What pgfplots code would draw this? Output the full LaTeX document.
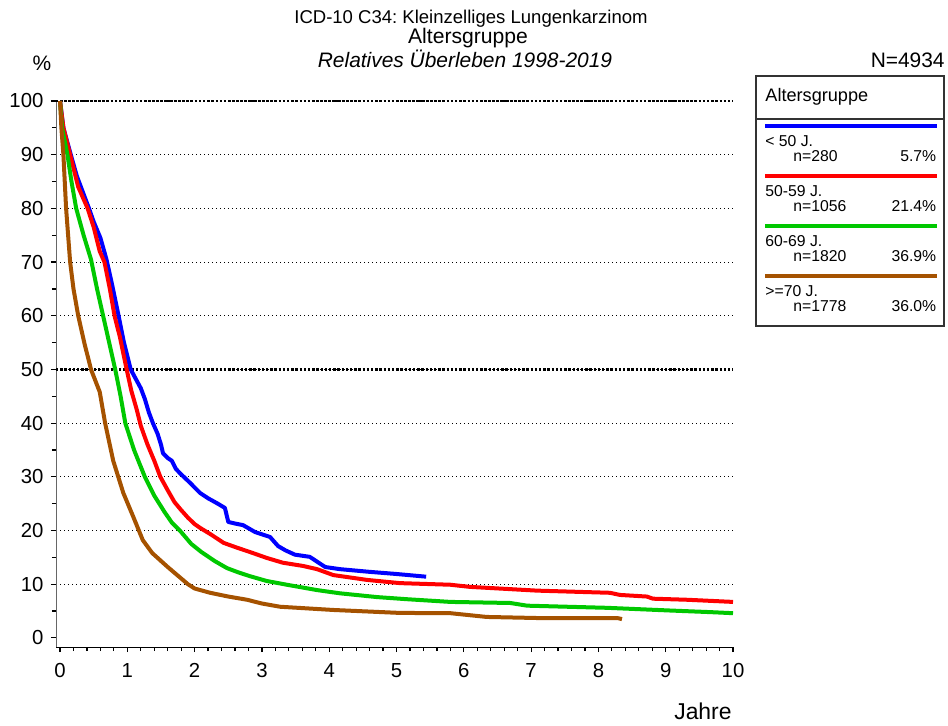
\documentclass[border=0pt]{standalone}
\usepackage{pgfplots}
\pgfplotsset{compat=1.18}
\usepackage{fontspec}
\setmainfont{Liberation Sans}
\frenchspacing

\definecolor{cBlue}{RGB}{0,0,255}
\definecolor{cRed}{RGB}{255,0,0}
\definecolor{cGreen}{RGB}{0,200,0}
\definecolor{cBrown}{RGB}{165,82,0}

\newcommand{\fs}[1]{\fontsize{#1}{#1}\selectfont}

\begin{document}
\begin{tikzpicture}[x=1bp,y=1bp]
\useasboundingbox (0,0) rectangle (474,362.5);

% titles
\node[anchor=base, font=\fs{9.3}, inner sep=0pt] at (235.5,350.8) {ICD-10 C34: Kleinzelliges Lungenkarzinom};
\node[anchor=base, font=\fs{10.6}, inner sep=0pt] at (234,340.6) {Altersgruppe};
\node[anchor=base, font=\fs{10.5}\itshape, inner sep=0pt] at (232.5,328.9) {Relatives Überleben 1998-2019};
\node[anchor=base, font=\fs{10.5}, inner sep=0pt] at (21,327.5) {\%};
\node[anchor=base east, font=\fs{10.5}, inner sep=0pt] at (472.5,329) {N=4934};
\node[anchor=base east, font=\fs{11.5}, inner sep=0pt] at (366,3) {Jahre};

\begin{axis}[
    at={(28bp,39bp)}, anchor=south west,
    scale only axis,
    width=338.5bp, height=273bp,
    xmin=-0.06, xmax=10,
    ymin=-1.7, ymax=100,
    axis x line*=bottom,
    axis y line*=left,
    y axis line style={draw=black!60},
    x axis line style={draw=black},
    xtick={0,1,...,10},
    minor x tick num=4,
    ytick={10,20,...,100},
    extra y ticks={0},
    extra y tick labels={0},
    extra y tick style={grid=none},
    minor ytick={5,15,...,95},
    tick align=outside,
    major tick length=2.6bp,
    minor tick length=2.1bp,
    tick style={black, line width=0.6bp},
    ymajorgrids,
    grid style={black, line width=0.55bp, dash pattern=on 0.55bp off 1.45bp},
    tick label style={font=\fs{10.2}},
    /pgf/number format/assume math mode=true,
    yticklabel style={anchor=east, inner sep=0pt, xshift=-3.5bp},
    xticklabel style={anchor=north, inner sep=0pt, yshift=-5.5bp},
    clip=false,
    line join=round,
]
\draw[black, line width=1.3bp, dash pattern=on 1.2bp off 0.9bp] (axis cs:-0.06,50) -- (axis cs:10,50);
\draw[black, line width=1.3bp, dash pattern=on 1.2bp off 0.9bp] (axis cs:-0.06,100) -- (axis cs:10,100);

% < 50 J.
\addplot[cBlue, line width=2bp] coordinates {
(0,100) (0.05,95) (0.16,90) (0.25,86) (0.37,82) (0.43,80) (0.5,77.5) (0.6,74.5)
(0.69,70.5) (0.77,66) (0.87,60) (0.95,55) (1.05,50) (1.11,48.6) (1.2,46.5)
(1.26,44.5) (1.32,42) (1.38,40) (1.45,38) (1.5,36) (1.53,34.4) (1.6,33.5)
(1.66,33) (1.72,31.5) (1.78,30.7) (1.93,28.9) (2.08,27) (2.2,26) (2.33,25.1)
(2.45,24.2) (2.5,21.6) (2.6,21.3) (2.72,21.0) (2.9,19.7) (3.12,18.8) (3.24,17.1)
(3.35,16.3) (3.49,15.5) (3.71,15.1) (3.94,13.2) (4.16,12.8) (4.6,12.3)
(5.0,11.9) (5.44,11.4)
};
% 50-59 J.
\addplot[cRed, line width=2bp] coordinates {
(0,100) (0.05,95) (0.15,90) (0.27,84) (0.41,80) (0.5,76.5) (0.59,72) (0.66,70)
(0.74,65) (0.81,60) (0.89,56) (0.99,50) (1.06,46) (1.14,42.5) (1.2,39.5)
(1.3,36) (1.4,33) (1.49,30) (1.6,27.5) (1.7,25.3) (1.8,23.8) (1.9,22.4)
(2.0,21.2) (2.08,20.5) (2.25,19.2) (2.43,17.7) (2.63,16.8) (2.82,16)
(3.07,14.9) (3.31,14) (3.61,13.4) (3.82,12.8) (4.06,11.7) (4.56,10.8)
(5.05,10.2) (5.8,9.9) (6.09,9.5) (7.09,8.8) (8.17,8.4) (8.32,8.0) (8.72,7.7)
(8.81,7.3) (9.32,7.1) (10,6.7)
};
% 60-69 J.
\addplot[cGreen, line width=2bp] coordinates {
(0,100) (0.03,95) (0.11,90) (0.17,85) (0.24,80) (0.35,75) (0.46,70.5) (0.55,65)
(0.64,60) (0.73,55) (0.82,50) (0.9,45) (0.97,40) (1.1,35) (1.26,30) (1.4,26.5)
(1.55,23.5) (1.66,21.5) (1.78,20) (1.95,17.5) (2.1,16) (2.3,14.3) (2.48,13)
(2.65,12.2) (2.82,11.5) (3.07,10.6) (3.37,9.9) (3.82,8.9) (4.16,8.3)
(4.71,7.6) (5.16,7.2) (5.8,6.7) (6.69,6.5) (6.94,6.0) (8.13,5.6) (9.06,5.1)
(9.66,4.8) (10,4.6)
};
% >=70 J.
\addplot[cBrown, line width=2bp] coordinates {
(0,100) (0.02,95) (0.05,90) (0.07,85) (0.09,80) (0.12,75) (0.15,70) (0.2,65)
(0.27,60) (0.36,55) (0.46,50) (0.59,45.8) (0.67,40) (0.79,33) (0.94,27)
(1.09,22.5) (1.23,18.2) (1.37,15.8) (1.6,13.2) (1.9,10) (2.0,9.2) (2.23,8.4)
(2.5,7.7) (2.78,7.1) (3.0,6.4) (3.27,5.8) (4.06,5.2) (5.05,4.65) (5.8,4.6)
(6.34,3.9) (7.09,3.7) (8.28,3.7) (8.35,3.5)
};
\end{axis}

% legend
\draw[black!80, line width=0.6bp] (378,199.5) rectangle (472,324.5);
\draw[black!80, line width=0.6bp] (378,303) -- (472,303);
\node[anchor=base west, font=\fs{9.1}, inner sep=0pt] at (382.5,311.7) {Altersgruppe};
\foreach \yy/\cc/\la/\nn/\pp in {299.5/cBlue/{< 50 J.}/280/5.7,
    274.5/cRed/{50-59 J.}/1056/21.4,
    249.5/cGreen/{60-69 J.}/1820/36.9,
    224.5/cBrown/{>=70 J.}/1778/36.0}{
  \draw[\cc, line width=1.8bp] (382.5,\yy) -- (468.3,\yy);
  \node[anchor=base west, font=\fs{7.9}, inner sep=0pt] at (382.5,\yy-10) {\la};
  \node[anchor=base west, font=\fs{7.9}, inner sep=0pt] at (396.5,\yy-17.5) {n=\nn};
  \node[anchor=base east, font=\fs{7.9}, inner sep=0pt] at (468.3,\yy-17.5) {\pp\%};
}
\end{tikzpicture}
\end{document}
